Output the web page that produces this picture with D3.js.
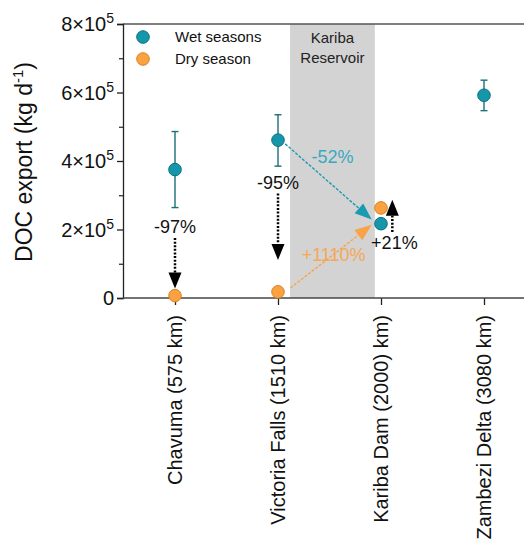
<!DOCTYPE html>
<html><head><meta charset="utf-8">
<script src="https://cdn.jsdelivr.net/npm/d3@7"></script>
<style>body{margin:0;background:#fff}text{font-family:"Liberation Sans",Arial,sans-serif}</style>
</head><body>
<svg id="c" width="524" height="541"></svg>
<script>
const categories = ["Chavuma (575 km)", "Victoria Falls (1510 km)", "Kariba Dam (2000) km)", "Zambezi Delta (3080 km)"];
const wetValues = [3.75e5, 4.61e5, 2.17e5, 5.92e5];
const wetErrLow = [2.64e5, 3.85e5, null, 5.47e5];
const wetErrHigh = [4.86e5, 5.35e5, null, 6.36e5];
const dryValues = [0.07e5, 0.18e5, 2.63e5, null];
const yTicks = [0, 2e5, 4e5, 6e5, 8e5];
const yMinorTicks = [1e5, 3e5, 5e5, 7e5];
const yTickLabels = ["0", "2×10|5", "4×10|5", "6×10|5", "8×10|5"];
// arrows: [x0 index, y0 value, x1 index, y1 value]
const blackArrows = [[0, 1.75e5, 0, 0.28e5], [1, 3.05e5, 1, 1.11e5], [2.11, 1.93e5, 2.11, 2.87e5]];
const blackLabels = [["-97%", 0, 1.9e5], ["-95%", 1, 3.18e5], ["+21%", 2.13, 1.43e5]];
const wetArrow = [1.07, 4.5e5, 1.91, 2.29e5];
const dryArrow = [1.12, 0.29e5, 1.91, 2.14e5];
const wetArrowLabel = ["-52%", 1.53, 3.94e5];
const dryArrowLabel = ["+1110%", 1.54, 1.08e5];
const reservoirBand = [1.117, 1.94];

const teal = "#1597ab", tealStroke = "#0f6f7d", orange = "#f9a23f", orangeStroke = "#d98228";
const svg = d3.select("#c");
const x = d3.scaleLinear().domain([0, 3]).range([175, 484]);
const y = d3.scaleLinear().domain([0, 8e5]).range([298, 24]);
const L = 123, R = 524;

// band
svg.append("rect").attr("x", x(reservoirBand[0])).attr("y", y(8e5))
  .attr("width", x(reservoirBand[1]) - x(reservoirBand[0])).attr("height", y(0) - y(8e5)).attr("fill", "#d3d3d3");
svg.append("text").attr("x", (x(reservoirBand[0]) + x(reservoirBand[1])) / 2).attr("y", 43)
  .attr("text-anchor", "middle").attr("font-size", 15).attr("fill", "#222").text("Kariba");
svg.append("text").attr("x", (x(reservoirBand[0]) + x(reservoirBand[1])) / 2).attr("y", 63)
  .attr("text-anchor", "middle").attr("font-size", 15).attr("fill", "#222").text("Reservoir");

// frame top
svg.append("line").attr("x1", L).attr("x2", R).attr("y1", y(8e5)).attr("y2", y(8e5)).attr("stroke", "#555").attr("stroke-width", 1.3);

// y axis
const ya = svg.append("g").attr("transform", `translate(${L},0)`)
  .call(d3.axisLeft(y).tickValues(yTicks).tickSize(6).tickFormat(""));
ya.select(".domain").attr("stroke", "#222").attr("stroke-width", 1.3);
ya.selectAll(".tick line").attr("stroke", "#222").attr("stroke-width", 1.3);
svg.append("g").attr("transform", `translate(${L},0)`)
  .call(d3.axisLeft(y).tickValues(yMinorTicks).tickSize(4).tickFormat(""))
  .call(g => { g.select(".domain").remove(); g.selectAll("line").attr("stroke", "#222").attr("stroke-width", 1.2); });
yTicks.forEach((v, i) => {
  const parts = yTickLabels[i].split("|");
  const t = svg.append("text").attr("x", L - 9).attr("y", y(v) + 7).attr("text-anchor", "end")
    .attr("font-size", 20).attr("fill", "#111");
  if (parts.length === 1) { t.text(parts[0]); }
  else {
    t.append("tspan").text(parts[0]);
    t.append("tspan").attr("font-size", 14).attr("dy", -8).text(parts[1]);
  }
});
const yl = svg.append("text").attr("transform", `translate(32,162) rotate(-90)`).attr("text-anchor", "middle")
  .attr("font-size", 23).attr("fill", "#111");
yl.append("tspan").text("DOC export (kg d");
yl.append("tspan").attr("font-size", 15).attr("dy", -9).text("-1");
yl.append("tspan").attr("dy", 9).text(")");

// x axis
const xa = svg.append("g").attr("transform", `translate(0,${y(0)})`)
  .call(d3.axisBottom(x).tickValues([0, 1, 2, 3]).tickSize(7).tickFormat(""));
xa.select(".domain").remove();
xa.selectAll(".tick line").attr("stroke", "#222").attr("stroke-width", 1.3);
svg.append("line").attr("x1", L).attr("x2", R).attr("y1", y(0)).attr("y2", y(0)).attr("stroke", "#444").attr("stroke-width", 1.3);
categories.forEach((c, i) => {
  svg.append("text").attr("transform", `translate(${x(i) + 7},${y(0) + 17}) rotate(-90)`)
    .attr("text-anchor", "end").attr("font-size", 20).attr("fill", "#111").text(c);
});

// arrow helper
function arrow(x0, y0, x1, y1, color, w, dash, hl, hw) {
  const dx = x1 - x0, dy = y1 - y0, len = Math.hypot(dx, dy), ux = dx / len, uy = dy / len;
  const bx = x1 - ux * hl, by = y1 - uy * hl;
  svg.append("line").attr("x1", x0).attr("y1", y0).attr("x2", bx).attr("y2", by)
    .attr("stroke", color).attr("stroke-width", w).attr("stroke-dasharray", dash);
  const px = -uy, py = ux;
  svg.append("path").attr("d", `M${x1},${y1}L${bx + px * hw / 2},${by + py * hw / 2}L${bx - px * hw / 2},${by - py * hw / 2}Z`).attr("fill", color);
}
blackArrows.forEach(a => arrow(x(a[0]), y(a[1]), x(a[2]), y(a[3]), "#000", 2.5, "2,1.6", 16, 13));
blackLabels.forEach(l => svg.append("text").attr("x", x(l[1])).attr("y", y(l[2])).attr("text-anchor", "middle")
  .attr("font-size", 18).attr("fill", "#111").text(l[0]));
arrow(x(wetArrow[0]), y(wetArrow[1]), x(wetArrow[2]), y(wetArrow[3]), "#1a9bb1", 1.4, "3,1.5", 17, 13);
arrow(x(dryArrow[0]), y(dryArrow[1]), x(dryArrow[2]), y(dryArrow[3]), "#f8a34a", 1.4, "3,1.5", 17, 13);
svg.append("text").attr("x", x(wetArrowLabel[1])).attr("y", y(wetArrowLabel[2])).attr("text-anchor", "middle")
  .attr("font-size", 18).attr("fill", "#3aa9c0").text(wetArrowLabel[0]);
svg.append("text").attr("x", x(dryArrowLabel[1])).attr("y", y(dryArrowLabel[2])).attr("text-anchor", "middle")
  .attr("font-size", 18).attr("fill", "#f7a757").text(dryArrowLabel[0]);

// error bars
wetValues.forEach((v, i) => {
  if (wetErrLow[i] == null) return;
  const g = svg.append("g").attr("stroke", "#1d6e7a").attr("stroke-width", 1.4);
  g.append("line").attr("x1", x(i)).attr("x2", x(i)).attr("y1", y(wetErrLow[i])).attr("y2", y(wetErrHigh[i]));
  g.append("line").attr("x1", x(i) - 3.5).attr("x2", x(i) + 3.5).attr("y1", y(wetErrLow[i])).attr("y2", y(wetErrLow[i]));
  g.append("line").attr("x1", x(i) - 3.5).attr("x2", x(i) + 3.5).attr("y1", y(wetErrHigh[i])).attr("y2", y(wetErrHigh[i]));
});
// points
svg.selectAll(".dry").data(dryValues.map((v, i) => [i, v]).filter(d => d[1] != null)).enter().append("circle")
  .attr("cx", d => x(d[0])).attr("cy", d => y(d[1])).attr("r", 6.3).attr("fill", orange).attr("stroke", orangeStroke).attr("stroke-width", 1);
svg.selectAll(".wet").data(wetValues.map((v, i) => [i, v])).enter().append("circle")
  .attr("cx", d => x(d[0])).attr("cy", d => y(d[1])).attr("r", 6.3).attr("fill", teal).attr("stroke", tealStroke).attr("stroke-width", 1);

// legend
[["Wet seasons", teal, tealStroke], ["Dry season", orange, orangeStroke]].forEach((d, i) => {
  svg.append("circle").attr("cx", 143).attr("cy", 37 + i * 22).attr("r", 6.3).attr("fill", d[1]).attr("stroke", d[2]);
  svg.append("text").attr("x", 175).attr("y", 42 + i * 22).attr("font-size", 15).attr("fill", "#111").text(d[0]);
});
</script>
</body></html>
